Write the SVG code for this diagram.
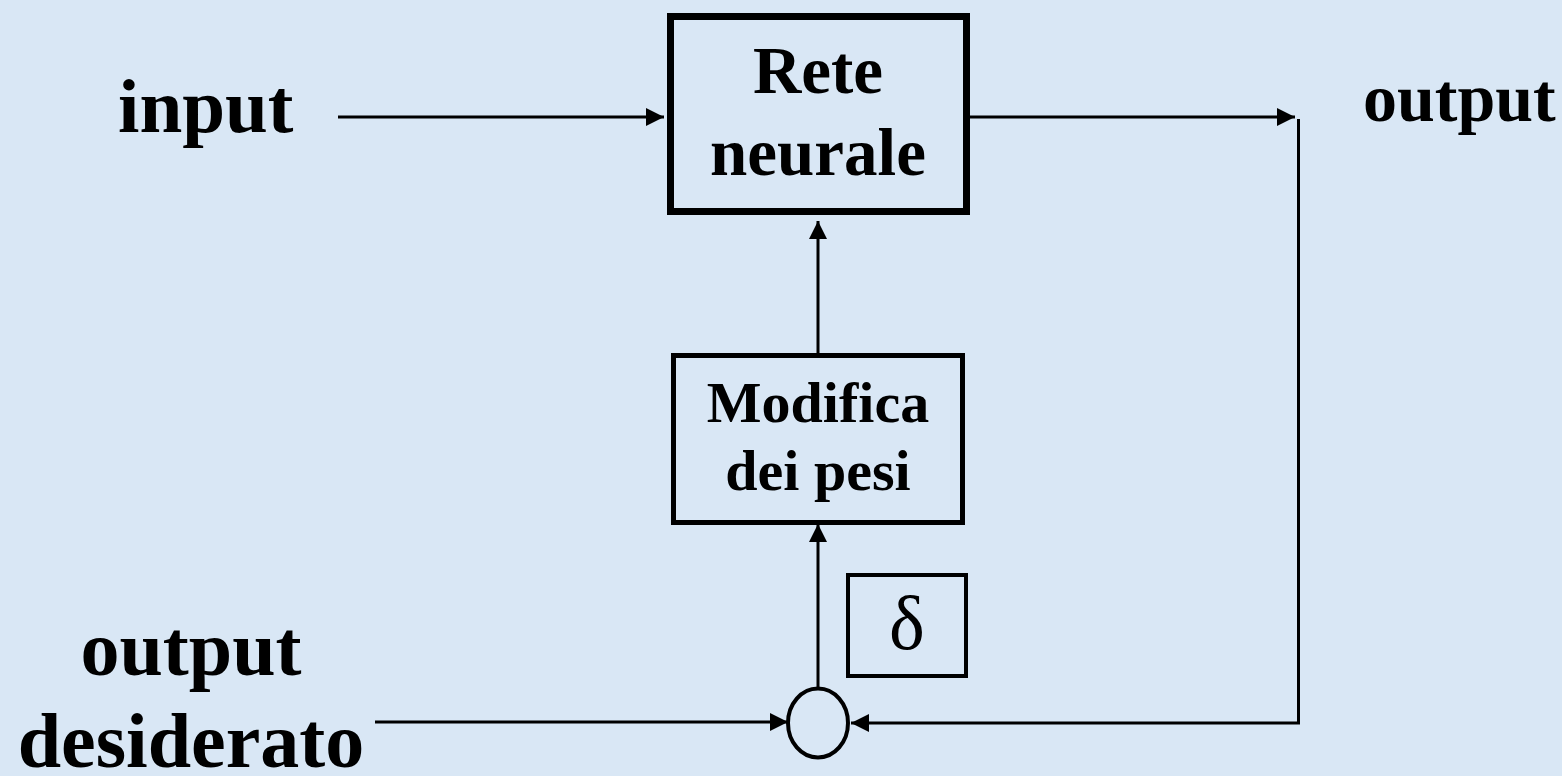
<svg xmlns="http://www.w3.org/2000/svg" width="1562" height="776" viewBox="0 0 1562 776">
<style>
.lbl{font-family:"Liberation Serif","Times New Roman",serif;font-weight:bold;fill:#000}
.box{fill:none;stroke:#000}
.con{fill:none;stroke:#000;stroke-width:3}
</style>
<defs>
<marker id="ah" markerUnits="userSpaceOnUse" markerWidth="20" markerHeight="20" refX="18" refY="9" orient="auto">
<path d="M0,0 L18,9 L0,18 z" fill="#000"/>
</marker>
</defs>
<rect width="1562" height="776" fill="#d9e7f5"/>
<g id="connectors">
<line class="con" x1="338" y1="117" x2="664" y2="117" marker-end="url(#ah)"/>
<line class="con" x1="970" y1="117" x2="1295" y2="117" marker-end="url(#ah)"/>
<path class="con" d="M1298.5,119 V723 H851" marker-end="url(#ah)"/>
<line class="con" x1="375" y1="722" x2="788" y2="722" marker-end="url(#ah)"/>
<line class="con" x1="818" y1="688" x2="818" y2="524" marker-end="url(#ah)"/>
<line class="con" x1="818" y1="353" x2="818" y2="221" marker-end="url(#ah)"/>
</g>
<g id="rete">
<rect class="box" x="670.5" y="16.5" width="296" height="195" stroke-width="7"/>
<text class="lbl" x="818" y="93" font-size="67" text-anchor="middle">Rete</text>
<text class="lbl" x="818" y="175" font-size="67" text-anchor="middle">neurale</text>
</g>
<g id="modifica">
<rect class="box" x="673.5" y="355.5" width="289" height="167" stroke-width="5"/>
<text class="lbl" x="818" y="422" font-size="58" text-anchor="middle">Modifica</text>
<text class="lbl" x="818" y="490" font-size="58" text-anchor="middle">dei pesi</text>
</g>
<g id="delta">
<rect class="box" x="848" y="575" width="118" height="101" stroke-width="4"/>
<text x="907" y="649" font-size="76" text-anchor="middle" font-family="'Liberation Serif','DejaVu Serif',serif" fill="#000">δ</text>
</g>
<g id="somma">
<ellipse cx="818" cy="723" rx="30" ry="34.5" fill="none" stroke="#000" stroke-width="4"/>
</g>
<g id="input">
<text class="lbl" x="118" y="132" font-size="77">input</text>
</g>
<g id="output">
<text class="lbl" x="1363" y="121" font-size="68">output</text>
</g>
<g id="output-desiderato">
<text class="lbl" x="191" y="675" font-size="78" text-anchor="middle">output</text>
<text class="lbl" x="191" y="767" font-size="78" text-anchor="middle">desiderato</text>
</g>
</svg>
